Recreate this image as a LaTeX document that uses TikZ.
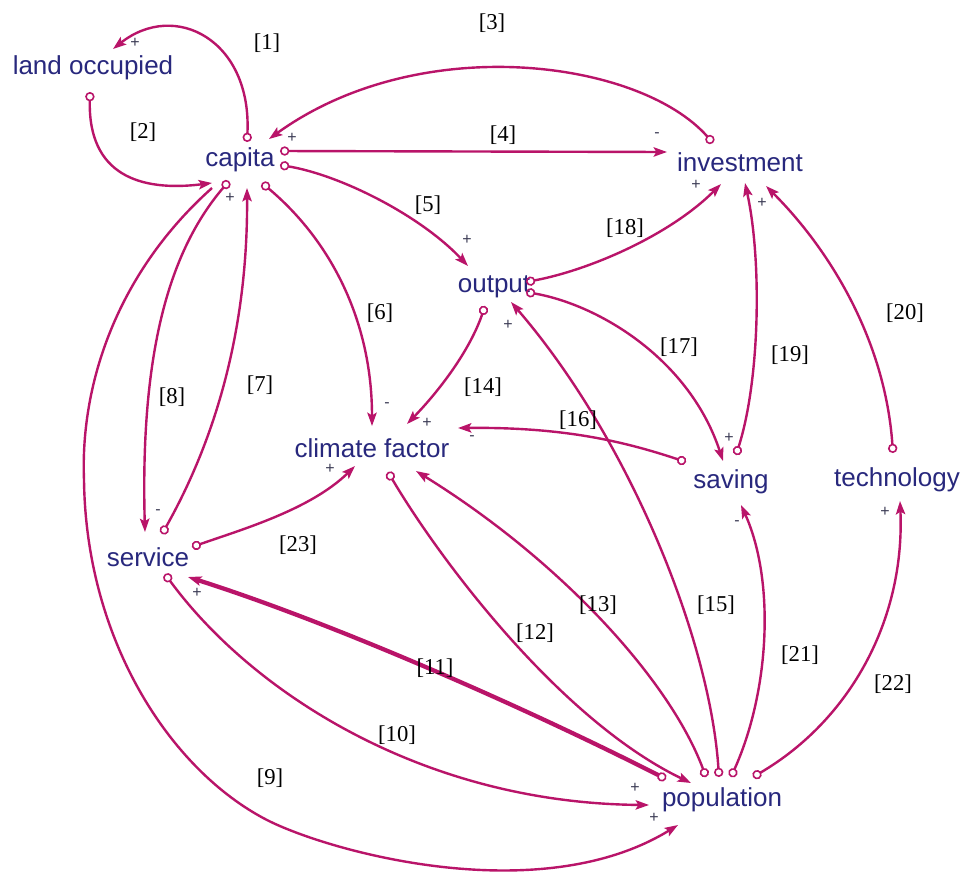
\documentclass[tikz,border=0pt]{standalone}
\usepackage{fontspec}
\setmainfont{Liberation Serif}
\newfontfamily\sansf{Liberation Sans}
\usetikzlibrary{arrows.meta}
\definecolor{linkcol}{RGB}{185,20,105}
\definecolor{varcol}{RGB}{40,40,125}
\definecolor{polcol}{RGB}{60,60,85}
\begin{document}
\begin{tikzpicture}[x=0.75pt,y=-0.75pt,
 var/.style={font=\sansf\fontsize{19.5}{22}\selectfont,text=varcol,inner sep=0pt},
 lab/.style={font=\fontsize{17}{19}\selectfont,text=black,inner sep=0pt},
 pol/.style={font=\sansf\fontsize{12}{13}\selectfont,text=polcol,inner sep=0pt},
 link/.style={draw=linkcol,line width=1.8pt,{Circle[open,length=7pt,width=7pt,line width=1.2pt]}-{Stealth[length=10pt,width=7pt,inset=2pt]}},
 linknc/.style={draw=linkcol,line width=1.8pt,-{Stealth[length=10pt,width=7pt,inset=2pt]}},
 thick link/.style={link,line width=3.2pt}
]
\fill[white] (0,0) rectangle (963,875);
\useasboundingbox (0,0) rectangle (963,875);

% variables
\node[var] (land) at (93,68) {land occupied};
\node[var] (capita) at (240,160) {capita};
\node[var] (invest) at (740,162) {investment};
\node[var] (output) at (494,287) {output};
\node[var] (climate) at (372,448) {climate factor};
\node[var] (saving) at (731,482) {saving};
\node[var] (tech) at (897,480) {technology};
\node[var] (service) at (148,557) {service};
\node[var] (pop) at (722,800) {population};

% end points
\coordinate (t1) at (247,142);  \coordinate (h1) at (113,49);
\coordinate (t2) at (90,92);    \coordinate (h2) at (212,183);
\coordinate (t3) at (713,143);  \coordinate (h3) at (269,139);
\coordinate (t4) at (280,151);  \coordinate (h4) at (667,152);
\coordinate (t5) at (280,165);  \coordinate (h5) at (468,266);
\coordinate (t6) at (262,183);  \coordinate (h6) at (372,426);
\coordinate (t7) at (162,534);  \coordinate (h7) at (247,188);
\coordinate (t8) at (229,181);  \coordinate (h8) at (145,532);
\coordinate (t9) at (212,188);  \coordinate (h9) at (678,825);
\coordinate (t10) at (165,574); \coordinate (h10) at (649,805);
\coordinate (t11) at (666,779); \coordinate (h11) at (188,577);
\coordinate (t12) at (388,472); \coordinate (h12) at (691,783);
\coordinate (t13) at (706,777); \coordinate (h13) at (416,471);
\coordinate (t14) at (485,306); \coordinate (h14) at (407,424);
\coordinate (t15) at (719,777); \coordinate (h15) at (511,302);
\coordinate (t16) at (686,462); \coordinate (h16) at (458,428);
\coordinate (t17) at (526,292); \coordinate (h17) at (723,461);
\coordinate (t18) at (526,282); \coordinate (h18) at (721,184);
\coordinate (t19) at (736,455); \coordinate (h19) at (745,183);
\coordinate (t20) at (893,453); \coordinate (h20) at (766,186);
\coordinate (t21) at (731,777); \coordinate (h21) at (741,505);
\coordinate (t22) at (753,777); \coordinate (h22) at (900,501);
\coordinate (t23) at (192,547); \coordinate (h23) at (355,466);

% links
\draw[link] (t1) .. controls (252,40) and (175,0) .. (h1);
\draw[link] (t2) .. controls (88,175) and (140,192) .. (h2);
\draw[link] (t3) .. controls (640,60) and (420,30) .. (h3);
\draw[link] (t4) -- (h4);
\draw[link] (t5) .. controls (340,175) and (420,215) .. (h5);
\draw[link] (t6) .. controls (330,240) and (372,320) .. (h6);
\draw[link] (t7) .. controls (215,440) and (248,330) .. (h7);
\draw[link] (t8) .. controls (170,250) and (140,350) .. (h8);
\draw[linknc] (t9) .. controls (120,270) and (80,380) .. (84,480)
   .. controls (86,640) and (170,770) .. (267,820)
   .. controls (330,852) and (540,910) .. (h9);
\draw[link] (t10) .. controls (250,690) and (420,803) .. (h10);
\draw[thick link] (t11) .. controls (520,705) and (330,622) .. (h11);
\draw[link] (t12) .. controls (440,560) and (560,720) .. (h12);
\draw[link] (t13) .. controls (670,680) and (560,560) .. (h13);
\draw[link] (t14) .. controls (470,350) and (440,390) .. (h14);
\draw[link] (t15) .. controls (710,640) and (630,440) .. (h15);
\draw[link] (t16) .. controls (620,440) and (560,427) .. (h16);
\draw[link] (t17) .. controls (600,305) and (690,360) .. (h17);
\draw[link] (t18) .. controls (590,270) and (670,235) .. (h18);
\draw[link] (t19) .. controls (760,380) and (762,260) .. (h19);
\draw[link] (t20) .. controls (885,340) and (830,250) .. (h20);
\draw[link] (t21) .. controls (770,690) and (775,580) .. (h21);
\draw[link] (t22) .. controls (850,720) and (905,620) .. (h22);
\draw[link] (t23) .. controls (240,530) and (310,510) .. (h23);

% link labels
\node[lab] (L1) at (267,43) {[1]};
\node[lab] (L2) at (143,132) {[2]};
\node[lab] (L3) at (492,23) {[3]};
\node[lab] (L4) at (503,135) {[4]};
\node[lab] (L5) at (428,205) {[5]};
\node[lab] (L6) at (380,313) {[6]};
\node[lab] (L7) at (260,385) {[7]};
\node[lab] (L8) at (172,397) {[8]};
\node[lab] (L9) at (270,778) {[9]};
\node[lab] (L10) at (397,735) {[10]};
\node[lab] (L11) at (435,668) {[11]};
\node[lab] (L12) at (535,633) {[12]};
\node[lab] (L13) at (598,605) {[13]};
\node[lab] (L14) at (483,387) {[14]};
\node[lab] (L15) at (716,605) {[15]};
\node[lab] (L16) at (578,420) {[16]};
\node[lab] (L17) at (679,347) {[17]};
\node[lab] (L18) at (625,228) {[18]};
\node[lab] (L19) at (790,355) {[19]};
\node[lab] (L20) at (905,313) {[20]};
\node[lab] (L21) at (800,655) {[21]};
\node[lab] (L22) at (893,684) {[22]};
\node[lab] (L23) at (298,545) {[23]};

% polarities
\node[pol] (p1) at (135,43) {+};
\node[pol] (p3) at (292,138) {+};
\node[pol] (p4) at (657,135) {-};
\node[pol] (p5) at (467,240) {+};
\node[pol] (p6) at (387,405) {-};
\node[pol] (p7) at (230,198) {+};
\node[pol] (p8) at (158,512) {-};
\node[pol] (p9) at (654,818) {+};
\node[pol] (p10) at (635,788) {+};
\node[pol] (p11) at (197,593) {+};
\node[pol] (p14) at (427,423) {+};
\node[pol] (p15) at (508,325) {+};
\node[pol] (p16) at (472,438) {-};
\node[pol] (p17) at (729,438) {+};
\node[pol] (p18) at (696,185) {+};
\node[pol] (p19) at (762,203) {+};
\node[pol] (p21) at (737,523) {-};
\node[pol] (p22) at (885,512) {+};
\node[pol] (p23) at (330,469) {+};
\end{tikzpicture}
\end{document}
